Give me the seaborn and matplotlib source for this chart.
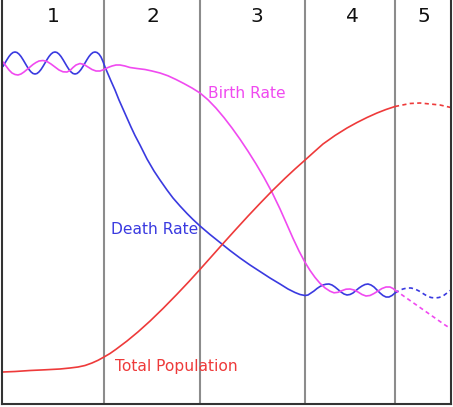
import matplotlib
matplotlib.use('Agg')
import matplotlib.pyplot as plt
import seaborn as sns

# Demographic transition model (x = time, y = level, top is high)
stage_edges = [104, 200, 305, 395]
stage_labels = ['1', '2', '3', '4', '5']
stage_label_x = [53, 153, 257, 352, 424]

death_x = [3, 5, 7, 9, 11, 13, 15, 17, 19, 21, 23, 25, 27, 29, 31, 33, 35, 37, 39, 41, 43, 45,
           47, 49, 51, 53, 55, 57, 59, 61, 63, 65, 67, 69, 71, 73, 75, 77, 79, 81, 83, 85, 87,
           89, 91, 93, 95, 97, 99, 101, 103, 105, 108, 111, 115, 119, 123, 127, 131, 135, 140,
           147, 154, 160, 167, 173, 180, 187, 193, 200, 210, 220, 230, 240, 250, 260, 270, 280,
           288, 295, 300, 305, 308, 311, 314, 317, 320, 323, 326, 329, 332, 335, 338, 341, 344,
           347, 350, 353, 356, 359, 362, 365, 368, 371, 374, 377, 380, 383, 386, 389, 392, 395]
death_y = [66.4, 63, 59.6, 56.5, 54.1, 52.5, 52, 52.5, 54.1, 56.5, 59.6, 63, 66.4, 69.5, 71.9,
           73.5, 74, 73.5, 71.9, 69.5, 66.4, 63, 59.6, 56.5, 54.1, 52.5, 52, 52.5, 54.1, 56.5,
           59.6, 63, 66.4, 69.5, 71.9, 73.5, 74, 73.5, 71.9, 69.5, 66.4, 63, 59.6, 56.5, 54.1,
           52.5, 52, 52.5, 54.1, 57, 61.5, 67, 74, 81, 90, 100, 109, 118, 127, 135.5, 145,
           159, 171, 180, 190, 198, 206, 213.5, 219.5, 226, 234.5, 242.5, 250.5, 258, 265, 271.5,
           278, 284, 289, 292.5, 294.5, 295.5, 295, 293, 291, 288.5, 286.5, 285, 284.2, 284, 285,
           287, 289.5, 292, 294, 295, 294.5, 293, 290.5, 288, 286, 284.5, 284, 285, 287, 290, 293,
           295.5, 297, 297, 295.5, 293]
death_fx = [395, 399, 403, 407, 411, 415, 419, 423, 427, 431, 435, 439, 443, 447, 451, 453]
death_fy = [293, 290.5, 289, 288, 288, 289, 291, 293.5, 296, 297.5, 298, 297.5, 296, 293, 290, 288.5]

birth_x = [3, 6, 9, 12, 15, 18, 21, 24, 27, 30, 33, 36, 39, 43, 47, 51, 55, 59, 63, 67, 70, 73,
           76, 80, 84, 88, 92, 96, 100, 104, 108, 112, 116, 120, 125, 130, 137, 145, 152, 160,
           168, 176, 184, 192, 200, 208, 216, 224, 232, 240, 248, 256, 264, 272, 280, 287, 293,
           299, 305, 310, 315, 320, 325, 330, 334, 338, 342, 346, 350, 354, 358, 362, 366, 370,
           374, 378, 382, 386, 390, 393, 395]
birth_y = [62, 66, 70, 73, 74.5, 75, 74, 72, 69.5, 67, 64.5, 62.5, 61, 60.5, 61.5, 64, 67, 70,
           71.8, 72, 70.5, 67.5, 65, 63.5, 64.5, 67, 69.5, 71, 71, 69.5, 67.5, 66, 65, 65, 66,
           67.5, 68.5, 69.5, 71, 73, 75.8, 79.5, 83.6, 88, 93, 99.8, 108.1, 117.6, 128, 139.2,
           151.2, 163.9, 177.5, 192.3, 208.9, 224.7, 238.3, 251, 262.3, 270.4, 277.4, 283.3,
           287.9, 291.2, 292.8, 292.3, 290.6, 289.2, 289, 290, 292, 294.5, 296, 295.5, 293.5,
           291, 288.5, 287, 287, 288.5, 290]
birth_fx = [395, 405, 415, 425, 435, 445, 453]
birth_fy = [290, 297, 304, 311, 318, 325, 330]

pop_x = [3, 15, 30, 45, 60, 70, 78, 85, 92, 98, 104, 110, 116, 127, 138, 150, 163, 177, 189,
         200, 210, 223, 235, 248, 260, 272, 285, 295, 305, 314, 323, 335, 347, 357, 367, 377,
         386, 395]
pop_y = [372, 371.5, 370.5, 369.8, 369, 368, 367, 365.5, 363, 360.3, 357, 353.5, 349.3, 341,
         331.9, 321.1, 308.5, 294.2, 281.5, 269.4, 258.2, 243.6, 230.3, 216.1, 203.4, 191,
         178.3, 169, 160.1, 152, 144, 135.5, 128, 122.5, 117.5, 113, 109.5, 106.5]
pop_fx = [395, 410, 420, 430, 440, 453]
pop_fy = [106.5, 103.5, 103, 104, 105, 108]

colors = {'birth': '#f04af0', 'death': '#3a3ae0', 'pop': '#ee3a3a'}

sns.set_style('white')
plt.rcParams['font.family'] = ['DejaVu Sans']

fig = plt.figure(figsize=(4.53, 4.07), dpi=100)
ax = fig.add_axes([2 / 453, 3 / 407, 449 / 453, 404 / 407])

for xe in stage_edges:
    ax.axvline(xe, color='#8c8c8c', linewidth=1.5, zorder=1)

lw = 1.2
dash = (0, (2.5, 2))
series = [
    (death_x, death_y, death_fx, death_fy, colors['death']),
    (birth_x, birth_y, birth_fx, birth_fy, colors['birth']),
    (pop_x, pop_y, pop_fx, pop_fy, colors['pop']),
]
for xs, ys, fxs, fys, col in series:
    sns.lineplot(x=xs, y=ys, sort=False, estimator=None, color=col, linewidth=lw, ax=ax)
    sns.lineplot(x=fxs, y=fys, sort=False, estimator=None, color=col, linewidth=lw,
                 linestyle=dash, ax=ax)

for lx, lab in zip(stage_label_x, stage_labels):
    ax.text(lx, 17, lab, ha='center', va='center', fontsize=14.5, color='#111111')

ax.text(208, 94, 'Birth Rate', ha='left', va='center', fontsize=11.2, color=colors['birth'])
ax.text(111, 229, 'Death Rate', ha='left', va='center', fontsize=11.2, color=colors['death'])
ax.text(115, 367, 'Total Population', ha='left', va='center', fontsize=11.2, color=colors['pop'])

ax.set_xlim(2, 451)
ax.set_ylim(404, 0)
ax.set_xticks([])
ax.set_yticks([])
ax.set_xlabel('')
ax.set_ylabel('')
ax.spines['top'].set_visible(False)
for side in ['left', 'right', 'bottom']:
    ax.spines[side].set_color('#333333')
    ax.spines[side].set_linewidth(1.5)

fig.savefig('out.png', dpi=100, facecolor='white')
plt.close(fig)
